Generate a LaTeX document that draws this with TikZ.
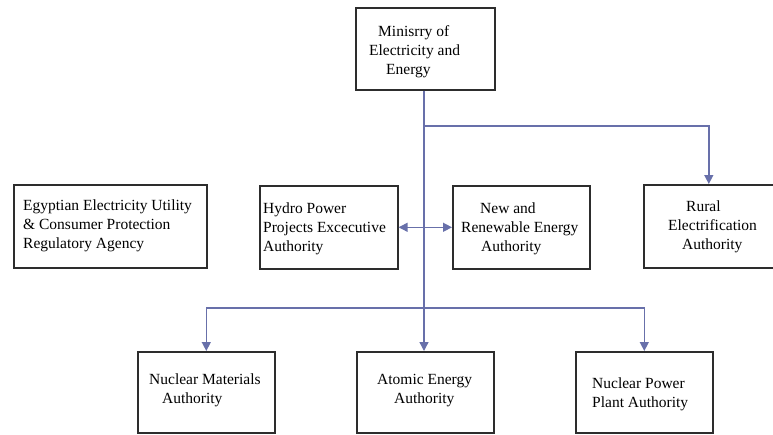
\documentclass[tikz,border=0pt]{standalone}
\usepackage{fontspec}
\setmainfont{Liberation Serif}
\usetikzlibrary{arrows.meta}
\definecolor{linkblue}{RGB}{104,112,170}
\definecolor{boxline}{RGB}{45,45,45}
\tikzset{
  unitbox/.style={draw=boxline, line width=1.6pt, fill=white, inner sep=0pt,
    anchor=north west, minimum height=#1},
  unitbox/.default=83pt,
  % multi-line texts are placed by the baseline of their last line
  label text/.style={anchor=base west, inner sep=0pt, align=left,
    font=\fontsize{15.5}{19}\selectfont},
  conn/.style={draw=linkblue, line width=1.4pt},
  tip/.style={-{Triangle[length=9pt,width=9pt]}},
}
\begin{document}
\begin{tikzpicture}[x=1pt,y=-1pt]
\useasboundingbox (0,0) rectangle (773,434);

% boxes
\node[unitbox, minimum width=139pt, minimum height=82pt] (ministry) at (355,7) {};
\node[unitbox, minimum width=193pt] (egypt) at (13,184) {};
\node[unitbox, minimum width=138pt] (hydro) at (259,185) {};
\node[unitbox, minimum width=137pt] (renew) at (452,185) {};
\node[unitbox, minimum width=130pt] (rural) at (643,184) {};
\node[unitbox, minimum width=137pt, minimum height=81pt] (nucmat) at (137,351) {};
\node[unitbox, minimum width=137pt, minimum height=81pt] (atomic) at (356,351) {};
\node[unitbox, minimum width=137pt, minimum height=81pt] (nucpow) at (575,351) {};

% box texts
\node[label text] (ministry-t) at (369,74)
  {\hspace*{9pt}Minisrry of\\Electricity and\\\hspace*{17pt}Energy};
\node[label text] (egypt-t) at (23,248)
  {Egyptian Electricity Utility\\\& Consumer Protection\\Regulatory Agency};
\node[label text] (hydro-t) at (263,251)
  {Hydro Power\\Projects Excecutive\\Authority};
\node[label text] (renew-t) at (461,251)
  {\hspace*{19pt}New and\\Renewable Energy\\\hspace*{20pt}Authority};
\node[label text] (rural-t) at (668,249)
  {\hspace*{18pt}Rural\\Electrification\\\hspace*{14pt}Authority};
\node[label text] (nucmat-t) at (149,403)
  {Nuclear Materials\\\hspace*{13pt}Authority};
\node[label text] (atomic-t) at (377,403)
  {Atomic Energy\\\hspace*{17pt}Authority};
\node[label text] (nucpow-t) at (592,407)
  {Nuclear Power\\Plant Authority};

% connectors
\coordinate (upper) at (424,126);
\coordinate (lower) at (424,308);
\draw[conn, tip] (ministry.south -| lower) -- (atomic.north -| lower);
\draw[conn, tip] (upper) -| (rural.north);
\draw[conn, tip] (lower) -| (nucmat.north);
\draw[conn, tip] (lower) -| (nucpow.north);
\draw[conn, {Triangle[length=9pt,width=9pt]}-{Triangle[length=9pt,width=9pt]}]
  (hydro.east) -- (renew.west);
\end{tikzpicture}
\end{document}
